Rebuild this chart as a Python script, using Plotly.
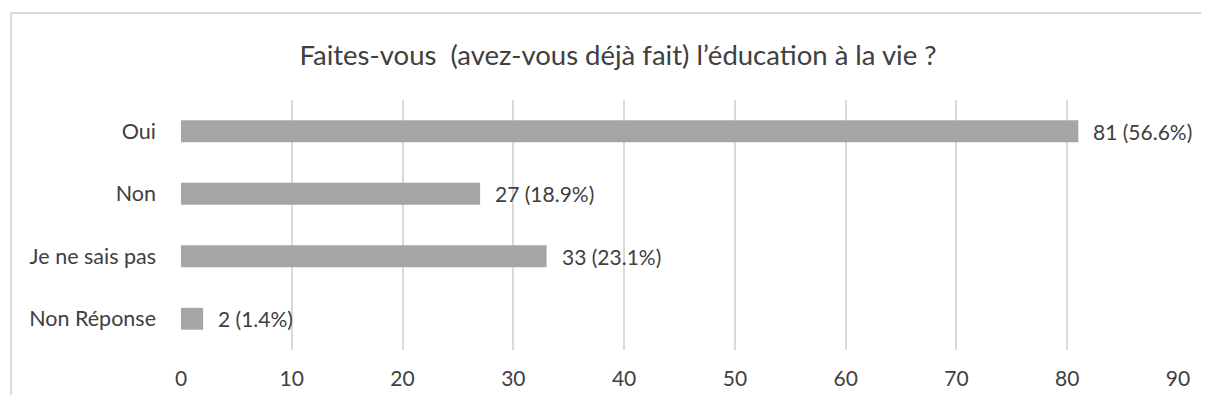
import plotly.graph_objects as go

categories = ["Oui", "Non", "Je ne sais pas", "Non Réponse"]
counts = [81, 27, 33, 2]
percents = [56.6, 18.9, 23.1, 1.4]
x_ticks = [0, 10, 20, 30, 40, 50, 60, 70, 80, 90]

labels = [f"{c} ({p}%)" for c, p in zip(counts, percents)]

# page body has an 8px default margin; figure placed at (8, 8)
OFF = 8
W, H = 1209 - 2 * OFF, 403 - 2 * OFF
L, R, T, B = 181 - OFF, W - (1178.5 - OFF), 100 - OFF, H - (350 - OFF)
pw = W - L - R
ph = H - T - B

FONT = "Lato"
TXT = "#404040"

fig = go.Figure(go.Bar(
    x=counts, y=categories, orientation="h",
    marker=dict(color="#a5a5a5", line=dict(width=0)),
    width=0.35,
    hoverinfo="skip",
))

for c, cat, lab in zip(counts, categories, labels):
    fig.add_annotation(x=c, y=cat, xref="x", yref="y", text=lab, showarrow=False,
                       xanchor="left", yanchor="middle", xshift=13,
                       font=dict(size=21, color=TXT, family=FONT))

fig.update_layout(
    width=W, height=H,
    margin=dict(l=L, r=R, t=T, b=B, autoexpand=False),
    paper_bgcolor="white", plot_bgcolor="white",
    font=dict(family=FONT, color=TXT, size=21.5),
    title=dict(text="Faites-vous \u00a0(avez-vous déjà fait) l’éducation à la vie ?",
               x=(618 - OFF) / W, xanchor="center", y=1 - (55 - OFF) / H, yanchor="middle",
               font=dict(size=27.5, color=TXT, family=FONT)),
    showlegend=False,
    xaxis=dict(range=[0, 90], tickvals=x_ticks, showgrid=True, gridcolor="#d9d9d9",
               gridwidth=1.5, zeroline=False, showline=False, ticks="",
               ticklabelstandoff=14, automargin=False, fixedrange=True,
               tickfont=dict(size=21)),
    yaxis=dict(categoryorder="array", categoryarray=categories[::-1],
               showgrid=False, zeroline=False, showline=False, ticks="",
               ticklabelstandoff=24, automargin=False, fixedrange=True),
    shapes=[dict(type="rect", xref="paper", yref="paper",
                 x0=(11 - 181) / pw, x1=(1215 - 181) / pw,
                 y0=(350 - 430) / ph, y1=(350 - 13) / ph,
                 line=dict(color="#d9d9d9", width=2), fillcolor="rgba(0,0,0,0)",
                 layer="below")],
)

fig.write_html("out.html")
